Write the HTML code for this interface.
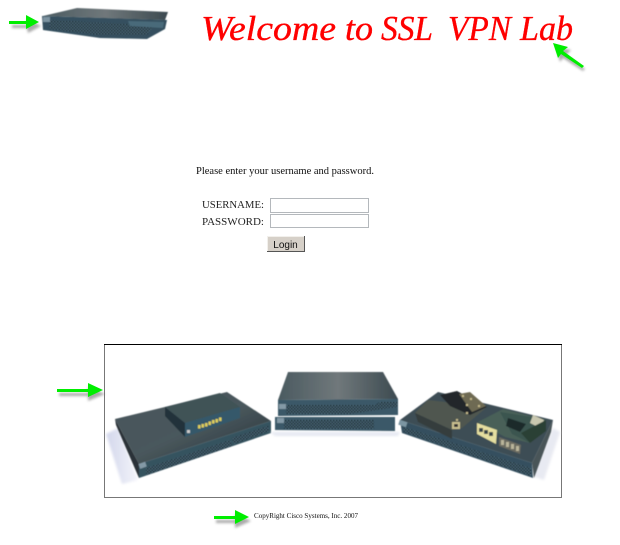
<!DOCTYPE html>
<html>
<head>
<meta charset="utf-8">
<style>
html,body{margin:0;padding:0;background:#fff;width:620px;height:545px;overflow:hidden}
svg{display:block}
</style>
</head>
<body>
<svg width="620" height="545" viewBox="0 0 620 545" xmlns="http://www.w3.org/2000/svg">
<defs>
<filter id="b0" x="-5%" y="-20%" width="110%" height="140%"><feGaussianBlur stdDeviation="0.3"/></filter>
<filter id="b1" x="-20%" y="-20%" width="140%" height="140%"><feGaussianBlur stdDeviation="0.45"/></filter>
<filter id="b2" x="-30%" y="-30%" width="160%" height="160%"><feGaussianBlur stdDeviation="1.3"/></filter>
<pattern id="mesh" width="3" height="3" patternUnits="userSpaceOnUse">
<rect width="3" height="3" fill="#4a6675"/><rect width="1.500" height="1.500" fill="#12202a"/><rect x="1.500" y="1.500" width="1.500" height="1.500" fill="#1a2c37"/>
</pattern>
<linearGradient id="top1" x1="0" y1="0" x2="1" y2="0"><stop offset="0" stop-color="#4a5a60"/><stop offset=".5" stop-color="#70787b"/><stop offset="1" stop-color="#3c4a50"/></linearGradient>
<linearGradient id="top2" x1="0" y1="0" x2="1" y2="1"><stop offset="0" stop-color="#46545a"/><stop offset=".5" stop-color="#4a585d"/><stop offset="1" stop-color="#232e34"/></linearGradient>
<linearGradient id="sh" x1="0" y1="0" x2="1" y2="0"><stop offset="0" stop-color="#d3d7ec"/><stop offset="1" stop-color="#f3f4fa"/></linearGradient>
</defs>

<!-- top device -->
<g filter="url(#b1)">
<polygon points="43,16 77,8 168,12 165,20" fill="url(#top1)"/>
<polygon points="42,16 167,20 165,29 147,39 100,38 43,30" fill="#34505e"/>
<polygon points="50,20 126,24 152,28 147,35 100,35 49,29" fill="url(#mesh)"/>
<rect x="43" y="17" width="7" height="5" fill="#7b93a0"/>
<polygon points="128,21 164,22 163,28 130,26" fill="#4a6a7a"/>
</g>

<!-- title -->
<g font-family="'Liberation Serif',serif" font-style="italic" font-size="35" fill="#ff0000" stroke="#ff0000" stroke-width="0.35" lengthAdjust="spacingAndGlyphs" filter="url(#b0)">
<text x="201" y="40" textLength="135" lengthAdjust="spacingAndGlyphs">Welcome</text>
<text x="345" y="40" textLength="28" lengthAdjust="spacingAndGlyphs">to</text>
<text x="381" y="40" textLength="52" lengthAdjust="spacingAndGlyphs">SSL</text>
<text x="448" y="40" textLength="63" lengthAdjust="spacingAndGlyphs">VPN</text>
<text x="520" y="40" textLength="53" lengthAdjust="spacingAndGlyphs">Lab</text>
</g>

<!-- form -->
<g filter="url(#b0)">
<text x="196" y="174" font-family="'Liberation Serif',serif" font-size="10.500" fill="#111" textLength="178" lengthAdjust="spacingAndGlyphs">Please enter your username and password.</text>
<text x="202" y="208" font-family="'Liberation Serif',serif" font-size="10.500" fill="#222" textLength="62" lengthAdjust="spacingAndGlyphs">USERNAME:</text>
<text x="202" y="225" font-family="'Liberation Serif',serif" font-size="10.500" fill="#222" textLength="62" lengthAdjust="spacingAndGlyphs">PASSWORD:</text>
</g>
<rect x="270.500" y="198.500" width="98" height="14" fill="#fff" stroke="#b4b8bc"/>
<rect x="270.500" y="214.500" width="98" height="13" fill="#fff" stroke="#b4b8bc"/>
<rect x="267" y="236" width="37" height="15" fill="#d6d0c8"/>
<path d="M267.500,251V236.500H304" fill="none" stroke="#f2f0ec"/>
<path d="M304.500,236V251.500H267" fill="none" stroke="#555"/>
<text x="285.500" y="248" text-anchor="middle" font-family="'Liberation Sans',sans-serif" font-size="10" fill="#111" filter="url(#b0)">Login</text>

<!-- picture frame -->
<rect x="104.500" y="344.500" width="457" height="153" fill="#fff" stroke="#777"/>
<line x1="104" y1="344.500" x2="562" y2="344.500" stroke="#000"/>

<!-- left device -->
<polygon points="106,434 118,428 138,480 122,484" fill="url(#sh)" filter="url(#b2)"/>
<g filter="url(#b1)">
<polygon points="115,419 227,392 271,421 139,464" fill="url(#top2)"/>
<polygon points="139,464 271,421 271,433 139,478" fill="#36525f"/>
<polygon points="115,419 139,464 139,478 116,425" fill="#2a3338"/>
<polygon points="146,468 230,440 232,446 146,475" fill="url(#mesh)"/>
<polygon points="232,438 268,426 269,431 234,444" fill="url(#mesh)"/>
<rect x="139" y="463" width="7" height="5" fill="#8399a6" transform="rotate(-19 142 465)"/>
<!-- small box -->
<polygon points="165,407 220,393 240,407 185,423" fill="#3f5257"/>
<polygon points="185,423 240,407 240,418 185,437" fill="#35596a"/>
<polygon points="165,407 185,423 185,437 165,416" fill="#22323a"/>
<g fill="#dccd5a">
<rect x="198" y="425" width="2.500" height="3.500"/><rect x="201.500" y="424" width="2.500" height="3.500"/><rect x="205" y="423" width="2.500" height="3.500"/><rect x="208.500" y="421.500" width="2.500" height="3.500"/><rect x="212" y="420" width="2.500" height="3.500"/><rect x="215.500" y="419" width="2.500" height="3.500"/><rect x="219" y="417.500" width="2.500" height="3.500"/>
</g>
<rect x="187" y="430" width="3" height="3" fill="#ccc"/>
</g>

<!-- middle devices -->
<polygon points="270,432 400,432 398,436 275,436" fill="#e6e9f2" filter="url(#b2)"/>
<g filter="url(#b1)">
<polygon points="288,372 383,372 398,399 278,400" fill="url(#top1)"/>
<polygon points="278,400 398,399 398,415 278,416" fill="#3a5868"/>
<polygon points="286,405 375,405 380,402 397,402 397,407 350,414 286,414" fill="url(#mesh)"/>
<rect x="279" y="404" width="7" height="5" fill="#8399a6"/>
<polygon points="275,417 395,417 395,431 275,430" fill="#3a5868"/>
<rect x="284" y="420" width="90" height="9" fill="url(#mesh)"/>
<rect x="277" y="418" width="7" height="5" fill="#8399a6"/>
</g>

<!-- right device -->
<polygon points="532,476 553,428 560,432 544,480" fill="#e8eaf2" filter="url(#b2)"/>
<g filter="url(#b1)">
<polygon points="400,420 438,392 553,420 532,463" fill="#3c4d55"/>
<polygon points="400,420 532,463 533,478 402,433" fill="#34505e"/>
<polygon points="404,427 500,458 531,468 531,476 404,432" fill="url(#mesh)"/>
<polygon points="532,463 553,420 551,432 534,478" fill="#4a5458"/>
<rect x="399" y="421" width="8" height="5" fill="#7b95a2" transform="rotate(18 403 423)"/>
<!-- module 1 -->
<polygon points="415,413 428,400 487,407 462,428 452,430" fill="#50564f"/>
<polygon points="415,413 452,430 452,439 418,422" fill="#343c3e"/>
<polygon points="440,395 457,391 487,407 470,415 450,406" fill="#20282a"/>
<polygon points="459,394 470,392 486,406 472,412" fill="#6e6a52"/>
<g fill="#c4b98c"><rect x="462" y="395" width="2" height="2"/><rect x="470" y="398" width="2" height="2"/><rect x="466" y="404" width="2" height="2"/><rect x="478" y="405" width="2" height="2"/><rect x="466" y="412" width="2" height="2"/><rect x="456" y="419" width="2" height="2"/></g>
<rect x="452" y="422" width="8" height="7" fill="#c9c090"/>
<rect x="454" y="424" width="4" height="3" fill="#333"/>
<!-- module 2 -->
<polygon points="478,422 503,409 546,420 530,443 505,437" fill="#486058"/>
<polygon points="500,412 544,419 530,443 512,434" fill="#3b5550"/>
<polygon points="508,418 526,424 520,432 506,426" fill="#1e2a2a"/>
<polygon points="533,415 544,420 540,428 530,423" fill="#c9c8b0"/>
<polygon points="477,423 497,430 496,444 477,434" fill="#e5dfa0"/>
<g fill="#39444a"><rect x="479" y="428" width="4" height="4"/><rect x="484" y="430" width="4" height="4"/><rect x="489" y="432" width="4" height="4"/></g>
<polygon points="499,437 521,445 520,454 499,446" fill="#6a6a60"/>
<g fill="#b9b49a"><rect x="501" y="440" width="3" height="5"/><rect x="506" y="442" width="3" height="5"/><rect x="511" y="444" width="3" height="5"/><rect x="516" y="446" width="3" height="5"/></g>
<polygon points="521,433 546,420 546,431 530,443" fill="#2c4035"/>
</g>

<!-- copyright -->
<text x="254" y="518" font-family="'Liberation Serif',serif" font-size="7.500" fill="#111" textLength="104" lengthAdjust="spacingAndGlyphs" filter="url(#b0)">CopyRight Cisco Systems, Inc. 2007</text>

<!-- arrow shadows -->
<g fill="#666" opacity=".55" filter="url(#b2)">
<polygon points="12,25 27,25 27,19 41,26 28,33 27,28 12,28"/>
<polygon points="556,47 571,50 566,55 585,69 583,71 563,58 560,62"/>
<polygon points="59,393 88,393 88,387 105,394 88,401 88,396 59,396"/>
<polygon points="216,520 235,520 235,514 251,521 235,528 235,523 216,523"/>
</g>
<!-- arrows -->
<g fill="#00ee00">
<polygon points="9,21 26,21 26,15 39,22 26,29 26,24 9,24"/>
<polygon points="553,43 568,47 563,51 584,66 582,68 561,54 558,58"/>
<polygon points="57,389 88,389 88,383 103,390 88,397 88,392 57,392"/>
<polygon points="214,516 235,516 235,510 249,517 235,524 235,519 214,519"/>
</g>
</svg>
</body>
</html>
